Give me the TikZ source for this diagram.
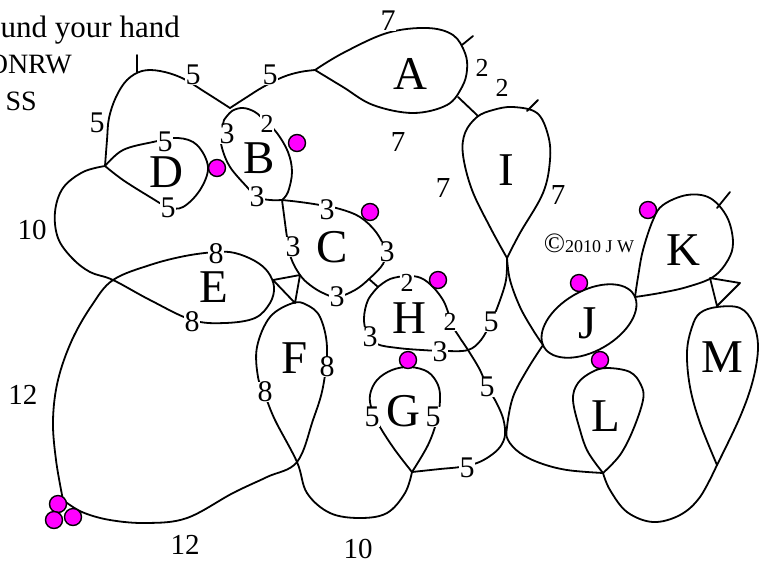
\documentclass[tikz,border=0pt]{standalone}
\usepackage{fontspec}
\setmainfont{Liberation Serif}
\definecolor{mg}{RGB}{255,0,255}
\begin{document}
\begin{tikzpicture}[x=1pt,y=-1pt,
  crv/.style={line width=1.8pt, line cap=round, line join=round},
  num/.style={font=\fontsize{30}{30}\selectfont, fill=white, inner sep=0.3pt},
  sm/.style={font=\fontsize{26}{26}\selectfont, fill=white, inner sep=0.3pt},
  free/.style={font=\fontsize{29}{29}\selectfont, inner sep=0.3pt},
  letter/.style={font=\fontsize{47}{47}\selectfont, inner sep=0pt},
  mdot/.style={circle, draw=black, fill=mg, line width=1.4pt, minimum size=17pt, inner sep=0pt}]
\useasboundingbox (0,0) rectangle (770,566);
\clip (0,0) rectangle (770,566);
% top-left text
\node[anchor=base east, font=\fontsize{31}{31}\selectfont, inner sep=0pt] (t1) at (180,37) {und your hand};
\node[anchor=base east, font=\fontsize{28}{28}\selectfont, inner sep=0pt] (t2) at (72,73) {ONRW};
\node[anchor=base east, font=\fontsize{28}{28}\selectfont, inner sep=0pt] (t3) at (37,110) {SS};
% 5-loop
\draw[crv] plot[smooth,tension=.6] coordinates {(105,166) (107,140) (109,118) (116,97) (127,80) (142,71) (160,71) (182,78) (205,92) (230,108)};
\draw[crv] (137,55) -- (137,72);
% V2 to A
\draw[crv] plot[smooth,tension=.6] coordinates {(230,108) (247,97) (263,87) (283,77) (300,72) (315,70)};
% A
\draw[crv] plot[smooth,tension=.6] coordinates {(315,70) (343,53) (387,33) (427,28) (453,35) (465,53) (467,70) (462,87) (447,105) (413,113) (373,105) (343,87) (315,70)};
\draw[crv] (462,45) -- (473,36);
\draw[crv] (458,97) -- (478,116);
% I
\draw[crv] plot[smooth,tension=.6] coordinates {(507,258) (490,227) (472,190) (463,155) (465,133) (477,117) (493,110) (513,107) (537,113) (548,135) (550,160) (543,193) (520,233) (507,258)};
\draw[crv] (527,111) -- (538,100);
% I to J
\draw[crv] plot[smooth,tension=.6] coordinates {(507,258) (510,280) (520,307) (533,330) (543,345)};
% J-left to V7 to L bottom
\draw[crv] plot[smooth,tension=.6] coordinates {(543,345) (527,370) (513,397) (507,427) (508,440) (520,453) (540,463) (567,470) (603,473)};
% H left+bottom up to I
\draw[crv] plot[smooth,tension=.6] coordinates {(378,287) (368,300) (364,318) (367,333) (377,344) (398,348) (422,350) (445,351) (468,350) (481,340) (491,322) (499,303) (506,280) (507,258)};
% H top/right down to V7 to G
\draw[crv] plot[smooth,tension=.6] coordinates {(378,287) (390,279) (407,276) (421,278) (433,287) (443,300) (448,312) (452,325) (460,338) (468,350) (480,370) (487,387) (495,400) (503,418) (505,435) (500,447) (490,456) (477,463) (460,467) (440,469) (412,472)};
\draw[crv] (369,279) -- (378,287);
% C
\draw[crv] plot[smooth,tension=.6] coordinates {(282,200) (300,202) (320,205) (340,209) (360,217) (376,232) (385,250) (383,264) (369,279) (355,290) (337,297) (323,293) (310,285) (300,275) (291,258) (287,237) (284,215) (282,200)};
\draw[crv] (273,280) -- (300,275) -- (295,303) -- cycle;
% B
\draw[crv] plot[smooth,tension=.6] coordinates {(224,120) (232,111) (243,108) (255,112) (265,121) (277,133) (288,152) (292,172) (288,192) (282,200)};
\draw[crv] plot[smooth,tension=.6] coordinates {(224,120) (221,135) (222,148) (230,167) (247,187) (257,197) (270,200) (282,200)};
% D
\draw[crv] plot[smooth,tension=.6] coordinates {(105,166) (123,150) (153,142) (178,138) (197,145) (208,167) (200,190) (183,207) (168,207) (150,197) (123,180) (105,166)};
% 10-loop, E, 12-loop
\draw[crv] plot[smooth,tension=.6] coordinates {(105,166) (83,172) (63,188) (55,212) (58,238) (72,258) (90,272) (113,280) (150,300) (192,320) (225,323) (255,318) (270,303) (274,287) (268,272) (255,261) (235,253) (216,252) (185,256) (150,265) (113,280) (92,305) (72,340) (58,380) (53,420) (56,460) (63,500)};
% bottom, F, bottom 10
\draw[crv] plot[smooth,tension=.6] coordinates {(63,500) (82,512) (110,520) (147,523) (187,518) (233,493) (267,477) (297,462) (313,420) (323,387) (327,347) (320,317) (307,305) (293,303) (270,317) (257,347) (258,377) (265,395) (275,420) (297,462) (307,493) (330,513) (360,518) (387,513) (405,493) (412,472)};
% G
\draw[crv] plot[smooth,tension=.6] coordinates {(412,472) (395,450) (380,427) (372,410) (370,395) (377,380) (392,370) (410,367) (428,372) (438,385) (440,400) (437,420) (428,445) (412,472)};
% L
\draw[crv] plot[smooth,tension=.6] coordinates {(603,473) (588,452) (580,430) (573,400) (578,383) (592,372) (607,368) (630,372) (641,385) (643,400) (633,430) (620,455) (603,473)};
\draw[crv] plot[smooth,tension=.6] coordinates {(603,473) (610,490) (627,512) (653,522) (680,515) (700,497) (717,465)};
% M
\draw[crv] plot[smooth,tension=.6] coordinates {(717,465) (700,423) (690,387) (687,352) (692,327) (700,313) (717,307) (740,308) (753,323) (758,347) (753,380) (740,417) (717,465)};
% K
\draw[crv] plot[smooth,tension=.6] coordinates {(635,297) (638,277) (643,250) (653,220) (663,205) (687,195) (710,198) (727,217) (733,242) (728,260) (713,277) (687,287) (660,293) (635,297)};
\draw[crv] (717,208) -- (730,192);
\draw[crv] (710,278) -- (740,283) -- (717,306) -- cycle;
% J
\draw[crv, rotate around={30:(589,321)}] (589,321) ellipse (52 and 30);
% numbers
\node[num] (n1) at (193,75) {5};
\node[num] (n2) at (270,75) {5};
\node[num] (n3) at (388,21) {7};
\node[sm] (n4) at (482,68) {2};
\node[sm] (n5) at (502,88) {2};
\node[num] (n6) at (97,123) {5};
\node[num] (n7) at (165,142) {5};
\node[num] (n8) at (168,208) {5};
\node[num] (n9) at (227,134) {3};
\node[sm] (n10) at (267,124) {2};
\node[num] (n11) at (257,197) {3};
\node[free] (n12) at (398,142) {7};
\node[free] (n13) at (443,188) {7};
\node[free] (n14) at (558,195) {7};
\node[free] (n15) at (32,230) {10};
\node[num] (n16) at (327,210) {3};
\node[num] (n17) at (293,247) {3};
\node[num] (n18) at (387,252) {3};
\node[num] (n19) at (337,297) {3};
\node[num] (n20) at (216,254) {8};
\node[num] (n21) at (192,322) {8};
\node[sm] (n22) at (407,283) {2};
\node[sm] (n23) at (450,322) {2};
\node[num] (n24) at (370,337) {3};
\node[num] (n25) at (440,352) {3};
\node[num] (n26) at (491,322) {5};
\node[num] (n27) at (487,387) {5};
\node[num] (n28) at (265,392) {8};
\node[num] (n29) at (327,367) {8};
\node[num] (n30) at (372,417) {5};
\node[num] (n31) at (433,417) {5};
\node[num] (n32) at (467,468) {5};
\node[free] (n33) at (23,395) {12};
\node[free] (n34) at (185,545) {12};
\node[free] (n35) at (358,549) {10};
% letters
\node[letter] (A) at (410,74) {A};
\node[letter] (B) at (259,158) {B};
\node[letter] (C) at (332,247) {C};
\node[letter] (D) at (166,172) {D};
\node[letter] (E) at (214,287) {E};
\node[letter] (F) at (295,358) {F};
\node[letter] (G) at (403,411) {G};
\node[letter] (H) at (409,318) {H};
\node[letter] (I) at (506,170) {I};
\node[letter] (J) at (588,323) {J};
\node[letter] (K) at (683,250) {K};
\node[letter] (L) at (606,416) {L};
\node[letter] (M) at (722,357) {M};
\node[inner sep=0pt] (cr) at (589,243) {{\fontsize{28}{28}\selectfont ©}{\fontsize{18}{18}\selectfont 2010 J W}};
% dots
\node[mdot] (d1) at (217,168) {};
\node[mdot] (d2) at (297,143) {};
\node[mdot] (d3) at (370,212) {};
\node[mdot] (d4) at (438,280) {};
\node[mdot] (d5) at (408,360) {};
\node[mdot] (d6) at (579,283) {};
\node[mdot] (d7) at (600,360) {};
\node[mdot] (d8) at (648,210) {};
\node[mdot] (d9) at (58,504) {};
\node[mdot] (d10) at (54,520) {};
\node[mdot] (d11) at (73,517) {};
\end{tikzpicture}
\end{document}
